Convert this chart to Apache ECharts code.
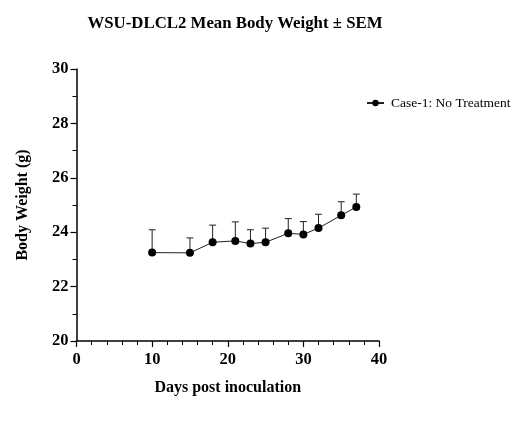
<!DOCTYPE html>
<html><head><meta charset="utf-8">
<script src="https://cdn.jsdelivr.net/npm/echarts@6/dist/echarts.min.js"></script>
<style>html,body{margin:0;padding:0;background:#fff}#c{width:524px;height:424px}</style>
</head><body><div id="c"></div>
<script>
const days = [10, 15, 18, 21, 23, 25, 28, 30, 32, 35, 37];
const meanWeight = [23.25, 23.24, 23.63, 23.68, 23.58, 23.63, 23.96, 23.92, 24.15, 24.62, 24.93];
const semWeight = [0.84, 0.55, 0.63, 0.70, 0.51, 0.52, 0.54, 0.47, 0.51, 0.50, 0.47];
const seriesName = 'Case-1: No Treatment';

const font = 'Liberation Serif';
const chart = echarts.init(document.getElementById('c'), null, {renderer: 'canvas'});
const lineData = days.map((d, i) => [d, meanWeight[i]]);
const errData = days.map((d, i) => [d, meanWeight[i], meanWeight[i] + semWeight[i]]);

chart.setOption({
  animation: false,
  backgroundColor: '#fff',
  title: {
    text: 'WSU-DLCL2 Mean Body Weight ± SEM',
    left: 230, top: 10, textAlign: 'center',
    textStyle: {fontFamily: font, fontWeight: 'bold', fontSize: 16.8, color: '#000'}
  },
  legend: {
    data: [seriesName],
    left: 361, top: 91,
    itemWidth: 17, itemHeight: 8, itemGap: 6,
    textStyle: {fontFamily: font, fontSize: 13.5, color: '#000', padding: [0, 0, 0, 2]}
  },
  grid: {left: 76.5, right: 145, top: 69, bottom: 83, containLabel: false},
  xAxis: {
    type: 'value', min: 0, max: 40, interval: 10,
    name: 'Days post inoculation', nameLocation: 'middle', nameGap: 39,
    nameTextStyle: {fontFamily: font, fontWeight: 'bold', fontSize: 16, color: '#000'},
    axisLine: {show: true, lineStyle: {color: '#000', width: 1.5}},
    axisTick: {show: true, length: 6, lineStyle: {color: '#000', width: 1.2}},
    minorTick: {show: true, splitNumber: 5, length: 4, lineStyle: {color: '#000', width: 1}},
    axisLabel: {fontFamily: font, fontWeight: 'bold', fontSize: 16.5, color: '#000', margin: 10},
    splitLine: {show: false}
  },
  yAxis: {
    type: 'value', min: 20, max: 30, interval: 2,
    name: 'Body Weight (g)', nameLocation: 'middle', nameGap: 46, nameRotate: 90,
    nameTextStyle: {fontFamily: font, fontWeight: 'bold', fontSize: 16, color: '#000'},
    axisLine: {show: true, lineStyle: {color: '#000', width: 1.5}},
    axisTick: {show: true, length: 6, lineStyle: {color: '#000', width: 1.2}},
    minorTick: {show: true, splitNumber: 2, length: 4, lineStyle: {color: '#000', width: 1}},
    axisLabel: {fontFamily: font, fontWeight: 'bold', fontSize: 16.5, color: '#000', margin: 8},
    splitLine: {show: false}
  },
  series: [
    {
      type: 'custom', name: 'err', silent: true, z: 1,
      data: errData,
      encode: {x: 0, y: [1, 2]},
      renderItem: function (params, api) {
        const x = api.value(0);
        const p0 = api.coord([x, api.value(1)]);
        const p1 = api.coord([x, api.value(2)]);
        const hw = 3.5;
        const st = {stroke: '#222', lineWidth: 1};
        return {type: 'group', children: [
          {type: 'line', shape: {x1: p0[0], y1: p0[1], x2: p1[0], y2: p1[1]}, style: st},
          {type: 'line', shape: {x1: p1[0] - hw, y1: p1[1], x2: p1[0] + hw, y2: p1[1]}, style: st}
        ]};
      }
    },
    {
      type: 'line', name: seriesName, data: lineData, z: 3,
      symbol: 'circle', symbolSize: 8,
      itemStyle: {color: '#000'},
      lineStyle: {color: '#222', width: 1}
    }
  ]
});
</script></body></html>
